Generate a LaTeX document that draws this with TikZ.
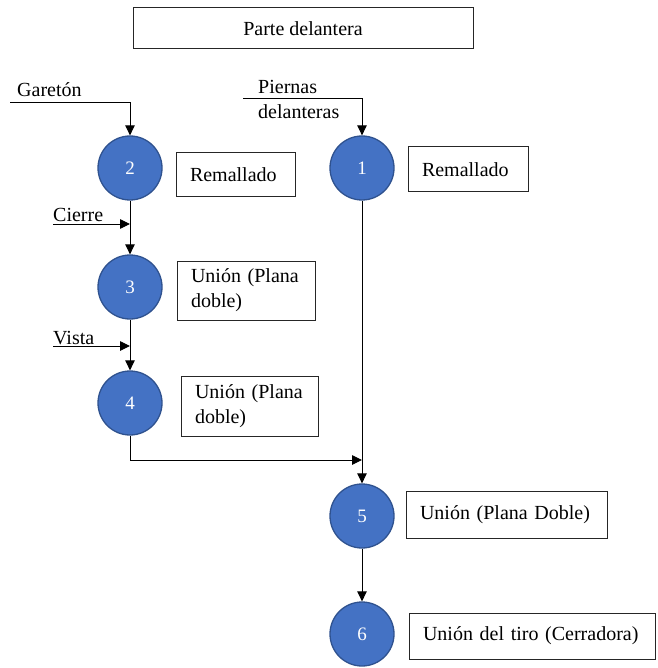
\documentclass[tikz,border=0pt]{standalone}
\usepackage{fontspec}
\setmainfont{Liberation Serif}
\usetikzlibrary{arrows.meta}
\definecolor{opfill}{HTML}{4472C4}
\definecolor{opedge}{HTML}{2F528F}
\definecolor{boxedge}{HTML}{262626}
\begin{document}
\begin{tikzpicture}[x=1pt,y=-1pt,
  font=\fontsize{20pt}{25pt}\selectfont,
  op/.style={circle,fill=opfill,draw=opedge,line width=1.3pt,minimum size=64pt,inner sep=0pt,
    text=white,font=\fontsize{19pt}{22pt}\selectfont},
  lbl/.style={draw=boxedge,line width=1pt,inner xsep=14pt,inner ysep=0pt,align=left},
  flow/.style={line width=0.9pt,-{Triangle[length=10pt,width=9.5pt]}},
  feed/.style={inner sep=0pt,anchor=west,align=left}]
\useasboundingbox (0,0) rectangle (657,668);

% heading
\node[draw=boxedge,line width=1pt,minimum width=340pt,minimum height=41pt,inner sep=0pt]
  (title) at (303,28.5) {Parte delantera};

% operations
\node[op] (c2) at (130,168) {2};
\node[op] (c1) at (362,168) {1};
\node[op] (c3) at (130,287) {3};
\node[op] (c4) at (130,403) {4};
\node[op] (c5) at (362,516) {5};
\node[op] (c6) at (362,634) {6};

% operation descriptions
\node[lbl,minimum width=119pt,minimum height=44pt,text width=91pt] (b2) at (235.5,175) {Remallado};
\node[lbl,minimum width=120pt,minimum height=45pt,text width=92pt] (b1) at (468,169.5) {Remallado};
\node[lbl,minimum width=138pt,minimum height=59pt,text width=110pt] (b3) at (246,290.5) {Unión (Plana\\doble)};
\node[lbl,minimum width=137pt,minimum height=60pt,text width=109pt] (b4) at (249.5,406) {Unión (Plana\\doble)};
\node[lbl,minimum width=201pt,minimum height=47pt,text width=173pt] (b5) at (506.5,514.5) {Unión (Plana Doble)};
\node[lbl,minimum width=246pt,minimum height=46pt,text width=218pt] (b6) at (532,636) {Unión del tiro (Cerradora)};

% incoming materials
\node[feed] (tg) at (17,90) {Garetón};
\node[feed] (tp) at (258,99.5) {Piernas\\delanteras};
\node[feed] (tc) at (53,215) {Cierre};
\node[feed] (tv) at (53,338) {Vista};

\coordinate (sg) at (10,102);
\coordinate (sp) at (243,98);
\coordinate (sc) at (53,224);
\coordinate (jc) at (130,224);
\coordinate (sv) at (53,346);
\coordinate (jv) at (130,346);
\coordinate (k4) at (130,460);
\coordinate (j5) at (362,460);

% connectors
\draw[flow] (sg) -| (c2.north);
\draw[flow] (sp) -| (c1.north);
\draw[flow] (c2.south) -- (c3.north);
\draw[flow] (sc) -- (jc);
\draw[flow] (c3.south) -- (c4.north);
\draw[flow] (sv) -- (jv);
\draw[flow] (c4.south) -- (k4) -- (j5);
\draw[flow] (c1.south) -- (c5.north);
\draw[flow] (c5.south) -- (c6.north);
\end{tikzpicture}
\end{document}
